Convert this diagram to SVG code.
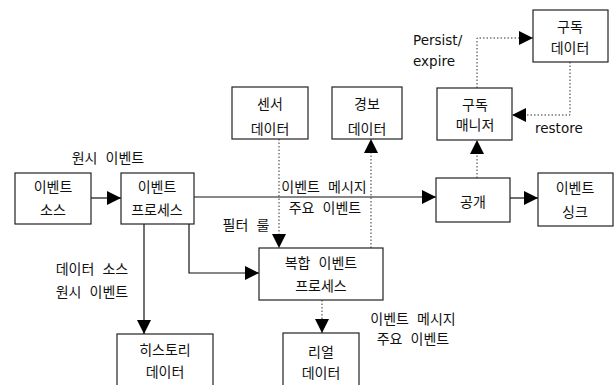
<svg xmlns="http://www.w3.org/2000/svg" width="616" height="385" viewBox="0 0 616 385">
<style>
.box{fill:#fff;stroke:#222;stroke-width:1.2}
.t{font-family:"Noto Sans CJK KR","Noto Sans",sans-serif;font-size:14px;fill:#111;text-anchor:middle;dominant-baseline:central;word-spacing:5px}
.e{font-family:"DejaVu Sans",sans-serif;font-size:13.5px;fill:#111}
.s{fill:none;stroke:#111;stroke-width:1.2}
.d{fill:none;stroke:#333;stroke-width:1;stroke-dasharray:1.5,2}
</style>
<defs>
<marker id="a" markerUnits="userSpaceOnUse" markerWidth="14" markerHeight="14" viewBox="0 0 14 14" refX="14" refY="7" orient="auto">
<path d="M0,0 L14,7 L0,14 Z" fill="#000"/>
</marker>
</defs>
<rect width="616" height="385" fill="#fff"/>
<g id="connectors">
<path class="s" d="M91,198 H121" marker-end="url(#a)"/>
<path class="s" d="M194,197 H436" marker-end="url(#a)"/>
<path class="s" d="M510,198 H538" marker-end="url(#a)"/>
<path class="d" d="M477,178 V140" marker-end="url(#a)"/>
<path class="d" d="M477,88 V38 H533" marker-end="url(#a)"/>
<path class="d" d="M570,62 V115 H512" marker-end="url(#a)"/>
<path class="d" d="M279,139 V248" marker-end="url(#a)"/>
<path class="d" d="M371,248 V139" marker-end="url(#a)"/>
<path class="s" d="M189,224 V273 H259" marker-end="url(#a)"/>
<path class="s" d="M144,224 V334" marker-end="url(#a)"/>
<path class="d" d="M322,300 V333" marker-end="url(#a)"/>
</g>
<g id="labels">
<text class="t" x="108" y="157">원시 이벤트</text>
<text class="t" x="324" y="186">이벤트 메시지</text>
<text class="t" x="325" y="207">주요 이벤트</text>
<text class="t" x="246" y="224">필터 룰</text>
<text class="t" x="92" y="268">데이터 소스</text>
<text class="t" x="92" y="291">원시 이벤트</text>
<text class="t" x="413" y="318">이벤트 메시지</text>
<text class="t" x="413" y="338">주요 이벤트</text>
<text class="e" x="413" y="45">Persist/</text>
<text class="e" x="413" y="66">expire</text>
<text class="e" x="535" y="133">restore</text>
</g>
<g id="event-source"><rect class="box" x="15" y="173" width="76" height="51"/><text class="t" x="53" y="186">이벤트</text><text class="t" x="53" y="209">소스</text></g>
<g id="event-process"><rect class="box" x="121" y="173" width="73" height="51"/><text class="t" x="157" y="186">이벤트</text><text class="t" x="157" y="209">프로세스</text></g>
<g id="sensor-data"><rect class="box" x="232" y="87" width="76" height="52"/><text class="t" x="270" y="103">센서</text><text class="t" x="270" y="128">데이터</text></g>
<g id="alarm-data"><rect class="box" x="332" y="87" width="70" height="52"/><text class="t" x="367" y="103">경보</text><text class="t" x="367" y="128">데이터</text></g>
<g id="sub-data"><rect class="box" x="533" y="10" width="75" height="52"/><text class="t" x="570" y="26">구독</text><text class="t" x="570" y="47">데이터</text></g>
<g id="sub-manager"><rect class="box" x="437" y="88" width="75" height="52"/><text class="t" x="475" y="104">구독</text><text class="t" x="475" y="124">매니저</text></g>
<g id="publish"><rect class="box" x="436" y="178" width="74" height="44"/><text class="t" x="473" y="201">공개</text></g>
<g id="event-sink"><rect class="box" x="538" y="173" width="75" height="53"/><text class="t" x="575" y="187">이벤트</text><text class="t" x="575" y="211">싱크</text></g>
<g id="complex-process"><rect class="box" x="259" y="248" width="124" height="52"/><text class="t" x="321" y="262">복합 이벤트</text><text class="t" x="321" y="285">프로세스</text></g>
<g id="real-data"><rect class="box" x="283" y="333" width="76" height="60"/><text class="t" x="321" y="351">리얼</text><text class="t" x="321" y="372">데이터</text></g>
<g id="history-data"><rect class="box" x="117" y="334" width="96" height="60"/><text class="t" x="165" y="349">히스토리</text><text class="t" x="165" y="371">데이터</text></g>
</svg>
